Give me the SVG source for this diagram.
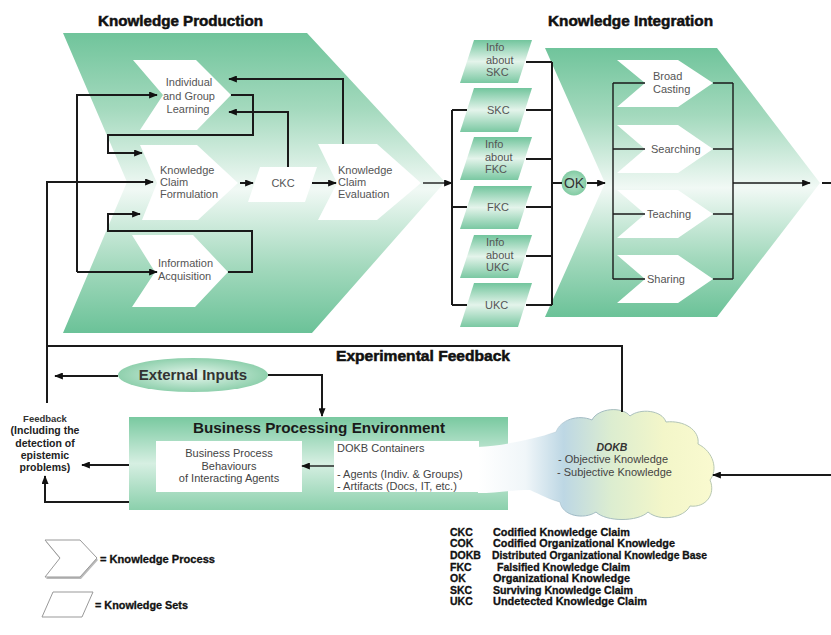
<svg xmlns="http://www.w3.org/2000/svg" width="831" height="635" viewBox="0 0 831 635">
<style>
text{font-family:"Liberation Sans",Arial,sans-serif}
.title{font-size:14px;font-weight:bold;fill:#111;stroke:#111;stroke-width:0.5}
.lbl{font-size:11px;fill:#555}
.conn{fill:none;stroke:#1a1a1a;stroke-width:2}
.thin{fill:none;stroke:#1a1a1a;stroke-width:1.4}
.leg{font-size:10.5px;font-weight:bold;fill:#111;stroke:#111;stroke-width:0.3}
.wch{fill:#fff}
.kset{fill:url(#gSet)}
</style>
<defs>
<linearGradient id="gBig" x1="0" y1="0" x2="0" y2="1">
<stop offset="0" stop-color="#70c49b"/>
<stop offset="0.25" stop-color="#a3d9bd"/>
<stop offset="0.52" stop-color="#f1f9f5"/>
<stop offset="0.78" stop-color="#a3d9bd"/>
<stop offset="1" stop-color="#6bc298"/>
</linearGradient>
<linearGradient id="gSet" x1="0" y1="0" x2="0" y2="1">
<stop offset="0" stop-color="#72c59d"/>
<stop offset="0.5" stop-color="#e4f4eb"/>
<stop offset="1" stop-color="#7ac8a2"/>
</linearGradient>
<linearGradient id="gBox" x1="0" y1="0" x2="0" y2="1">
<stop offset="0" stop-color="#79c9a0"/>
<stop offset="0.5" stop-color="#d6efe2"/>
<stop offset="1" stop-color="#8bd0ac"/>
</linearGradient>
<radialGradient id="gEll" cx="0.5" cy="0.5" r="0.5">
<stop offset="0" stop-color="#e6f6ed"/>
<stop offset="1" stop-color="#8fd0ad"/>
</radialGradient>
<radialGradient id="gOK" cx="0.5" cy="0.5" r="0.5">
<stop offset="0" stop-color="#bfe6d0"/>
<stop offset="1" stop-color="#82cba3"/>
</radialGradient>
<linearGradient id="gCloud" gradientUnits="userSpaceOnUse" x1="478" y1="0" x2="716" y2="0">
<stop offset="0" stop-color="#ffffff"/>
<stop offset="0.2" stop-color="#f0f6f9"/>
<stop offset="0.36" stop-color="#bdd7e4"/>
<stop offset="0.56" stop-color="#dcedd0"/>
<stop offset="0.78" stop-color="#f3f6c9"/>
<stop offset="1" stop-color="#fafad0"/>
</linearGradient>
<linearGradient id="gCloudS" gradientUnits="userSpaceOnUse" x1="478" y1="0" x2="716" y2="0">
<stop offset="0" stop-color="#9db8c4" stop-opacity="0"/>
<stop offset="0.28" stop-color="#9db8c4" stop-opacity="0"/>
<stop offset="0.4" stop-color="#9db8c4" stop-opacity="1"/>
<stop offset="1" stop-color="#b9c8b0" stop-opacity="1"/>
</linearGradient>
<marker id="ah" viewBox="0 0 10 8" refX="9" refY="4" markerWidth="9" markerHeight="7" markerUnits="userSpaceOnUse" orient="auto">
<path d="M0,0 L10,4 L0,8 Z" fill="#111"/>
</marker>
</defs>

<!-- Titles -->
<text class="title" x="98" y="26" textLength="165" lengthAdjust="spacingAndGlyphs">Knowledge Production</text>
<text class="title" x="548" y="26" textLength="165" lengthAdjust="spacingAndGlyphs">Knowledge Integration</text>

<!-- Knowledge Production big chevron -->
<g id="knowledge-production">
<path d="M63,33 H307 L445,182 L312,333 H63 L127,182 Z" fill="url(#gBig)"/>
</g>
<g id="individual-group-learning">
<path class="wch" d="M133,60 H196 L231,95 L197,130 H140 L163,95 Z"/>
<text class="lbl" x="189" y="86" text-anchor="middle">Individual</text>
<text class="lbl" x="189" y="100" text-anchor="middle">and Group</text>
<text class="lbl" x="188" y="113" text-anchor="middle">Learning</text>
</g>
<g id="knowledge-claim-formulation">
<path class="wch" d="M140,145 H197 L238,183 L198,220 H142 L157,183 Z"/>
<text class="lbl" x="160" y="174">Knowledge</text>
<text class="lbl" x="160" y="186">Claim</text>
<text class="lbl" x="160" y="198">Formulation</text>
</g>
<g id="information-acquisition">
<path class="wch" d="M132,235 H193 L228,272 L195,307 H132 L155,272 Z"/>
<text class="lbl" x="158" y="267">Information</text>
<text class="lbl" x="158" y="280">Acquisition</text>
</g>
<g id="ckc">
<path class="wch" d="M260,167 H317 L305,202 H248 Z"/>
<text class="lbl" x="283" y="187" text-anchor="middle">CKC</text>
</g>
<g id="knowledge-claim-evaluation">
<path class="wch" d="M318,144 H377 L421,183 L377,220 H318 L337,183 Z"/>
<text class="lbl" x="338" y="174">Knowledge</text>
<text class="lbl" x="338" y="186">Claim</text>
<text class="lbl" x="338" y="198">Evaluation</text>
</g>

<!-- Knowledge sets -->
<g id="info-about-skc">
<path class="kset" d="M474,40 H532 L518,83 H460 Z"/>
<text class="lbl" x="486" y="51">Info</text>
<text class="lbl" x="486" y="64">about</text>
<text class="lbl" x="486" y="76">SKC</text>
</g>
<g id="skc">
<path class="kset" d="M474,88 H532 L518,132 H460 Z"/>
<text class="lbl" x="487" y="114">SKC</text>
</g>
<g id="info-about-fkc">
<path class="kset" d="M474,137 H532 L518,180 H460 Z"/>
<text class="lbl" x="485" y="148">Info</text>
<text class="lbl" x="485" y="161">about</text>
<text class="lbl" x="485" y="173">FKC</text>
</g>
<g id="fkc">
<path class="kset" d="M474,186 H532 L518,229 H460 Z"/>
<text class="lbl" x="487" y="211">FKC</text>
</g>
<g id="info-about-ukc">
<path class="kset" d="M474,235 H532 L518,278 H460 Z"/>
<text class="lbl" x="486" y="246">Info</text>
<text class="lbl" x="486" y="259">about</text>
<text class="lbl" x="486" y="271">UKC</text>
</g>
<g id="ukc">
<path class="kset" d="M474,283 H532 L518,327 H460 Z"/>
<text class="lbl" x="485" y="309">UKC</text>
</g>

<!-- Knowledge Integration big chevron -->
<g id="knowledge-integration">
<path d="M545,48 H717 L820,183 L717,317 H545 L605,183 Z" fill="url(#gBig)"/>
</g>
<g id="broad-casting">
<path class="wch" d="M617,60 H678 L713,83 L678,107 H617 L645,83 Z"/>
<text class="lbl" x="653" y="80">Broad</text>
<text class="lbl" x="653" y="93">Casting</text>
</g>
<g id="searching">
<path class="wch" d="M617,125 H678 L713,149 L678,173 H617 L645,149 Z"/>
<text class="lbl" x="651" y="153">Searching</text>
</g>
<g id="teaching">
<path class="wch" d="M617,190 H678 L713,214 L678,238 H617 L645,214 Z"/>
<text class="lbl" x="647" y="218">Teaching</text>
</g>
<g id="sharing">
<path class="wch" d="M617,255 H678 L713,279 L678,303 H617 L645,279 Z"/>
<text class="lbl" x="647" y="283">Sharing</text>
</g>
<g id="ok">
<circle cx="574" cy="183" r="12.5" fill="url(#gOK)"/>
<text x="574" y="188" text-anchor="middle" font-size="14" fill="#333">OK</text>
</g>

<!-- Bottom nodes -->
<g id="external-inputs">
<ellipse cx="193" cy="375" rx="75" ry="17" fill="url(#gEll)"/>
<text x="193" y="380" text-anchor="middle" font-size="15" font-weight="bold" fill="#333">External Inputs</text>
</g>
<g id="business-processing-environment">
<rect x="129" y="417" width="379" height="93" fill="url(#gBox)"/>
<text x="193" y="433" font-size="15.5" font-weight="bold" fill="#1a1a1a" textLength="252" lengthAdjust="spacingAndGlyphs">Business Processing Environment</text>
</g>
<g id="dokb">
<path d="M478,447 C500,446 530,440 556,432 C560,420 578,414 592,420 C598,408 622,406 630,416 C640,408 662,410 666,422 C684,420 700,430 698,444 C714,452 718,470 710,480 C716,494 706,508 690,506 C684,518 660,522 648,512 C638,522 606,522 596,512 C584,520 562,516 560,502 C545,498 535,492 530,490 C510,490 495,493 478,493 Z" fill="url(#gCloud)" stroke="url(#gCloudS)" stroke-width="1"/>
<text x="612" y="451" text-anchor="middle" font-size="10.5" font-weight="bold" font-style="italic" fill="#333">DOKB</text>
<text x="558" y="463" font-size="11" fill="#444">-  Objective Knowledge</text>
<text x="557" y="476" font-size="11" fill="#444">-  Subjective Knowledge</text>
</g>
<g id="business-process-behaviours">
<rect x="156" y="441" width="146" height="51" fill="#fff"/>
<text x="229" y="457" text-anchor="middle" font-size="11" fill="#444">Business Process</text>
<text x="229" y="470" text-anchor="middle" font-size="11" fill="#444">Behaviours</text>
<text x="229" y="482" text-anchor="middle" font-size="11" fill="#444">of Interacting Agents</text>
</g>
<g id="dokb-containers">
<rect x="334" y="441" width="145" height="51" fill="#fff"/>
<text x="337" y="452" font-size="11" fill="#444">DOKB Containers</text>
<text x="337" y="478" font-size="11" fill="#444">-  Agents (Indiv. &amp; Groups)</text>
<text x="337" y="490" font-size="11" fill="#444">-  Artifacts (Docs, IT, etc.)</text>
</g>
<g id="feedback">
<text x="45" y="422" text-anchor="middle" font-size="9.5" font-weight="bold" fill="#333">Feedback</text>
<text x="45" y="434" text-anchor="middle" font-size="10.5" font-weight="bold" fill="#222">(Including the</text>
<text x="45" y="447" text-anchor="middle" font-size="10.5" font-weight="bold" fill="#222">detection of</text>
<text x="45" y="459" text-anchor="middle" font-size="10.5" font-weight="bold" fill="#222">epistemic</text>
<text x="45" y="471" text-anchor="middle" font-size="10.5" font-weight="bold" fill="#222">problems)</text>
</g>
<text class="title" x="336" y="361" textLength="174" lengthAdjust="spacingAndGlyphs">Experimental Feedback</text>

<!-- Connectors -->
<g id="connectors">
<path class="conn" d="M47,403 V182 H153" marker-end="url(#ah)"/>
<path class="conn" d="M77,272 V95 H157" marker-end="url(#ah)"/>
<path class="conn" d="M77,272 H157" marker-end="url(#ah)"/>
<path class="conn" d="M231,95 H253 V135 H108 V153 H142" marker-end="url(#ah)"/>
<path class="conn" d="M228,272 H252 V231 H108 V214 H140" marker-end="url(#ah)"/>
<path class="conn" d="M288,167 V112 H229" marker-end="url(#ah)"/>
<path class="conn" d="M343,144 V79 H229" marker-end="url(#ah)"/>
<path class="conn" d="M240,183 H253" marker-end="url(#ah)"/>
<path class="conn" d="M312,183 H336" marker-end="url(#ah)"/>
<path class="thin" d="M423,183 H452" marker-end="url(#ah)"/>
<path class="conn" d="M452,110 V305"/>
<path class="conn" d="M452,110 H467 M452,207 H467 M452,305 H467"/>
<path class="conn" d="M552,62 V305"/>
<path class="conn" d="M526,62 H552 M526,110 H552 M526,159 H552 M526,207 H552 M526,256 H552 M526,305 H552"/>
<path class="conn" d="M552,183 H562"/>
<path class="conn" d="M587,183 H605" marker-end="url(#ah)"/>
<path class="thin" d="M613,83 V279 M613,83 H645 M613,149 H645 M613,214 H645 M613,279 H645"/>
<path class="thin" d="M733,83 V279 M713,83 H733 M713,149 H733 M713,214 H733 M713,279 H733"/>
<path class="thin" d="M733,183 H810" marker-end="url(#ah)"/>
<path class="conn" d="M822,183 H831"/>
<path class="conn" d="M622,412 V346 H47"/>
<path class="conn" d="M118,376 H55" marker-end="url(#ah)"/>
<path class="conn" d="M268,375 H322 V416" marker-end="url(#ah)"/>
<path class="conn" d="M129,465 H82" marker-end="url(#ah)"/>
<path class="conn" d="M129,502 H45 V476" marker-end="url(#ah)"/>
<path class="thin" d="M334,466 H302" marker-end="url(#ah)"/>
<path class="conn" d="M831,475 H713" marker-end="url(#ah)"/>
</g>

<!-- Legend -->
<g id="legend-process">
<path d="M46,542 H81 L98,560 L81,579 H46 L61,560 Z" fill="#bbb"/>
<path d="M45,540 H80 L97,558 L80,577 H45 L60,558 Z" fill="#fff" stroke="#999" stroke-width="1"/>
<text class="leg" x="100" y="563" textLength="115" lengthAdjust="spacingAndGlyphs">= Knowledge Process</text>
</g>
<g id="legend-sets">
<path d="M53,592 H93 L82,617 H42 Z" fill="#fff" stroke="#999" stroke-width="1"/>
<text class="leg" x="95" y="609" textLength="93" lengthAdjust="spacingAndGlyphs">= Knowledge Sets</text>
</g>
<g id="legend-abbreviations">
<text class="leg" x="450" y="535.5">CKC</text>
<text class="leg" x="493" y="535.5" textLength="137" lengthAdjust="spacingAndGlyphs">Codified Knowledge Claim</text>
<text class="leg" x="450" y="547">COK</text>
<text class="leg" x="493" y="547" textLength="182" lengthAdjust="spacingAndGlyphs">Codified Organizational Knowledge</text>
<text class="leg" x="450" y="558.5">DOKB</text>
<text class="leg" x="492" y="558.5" textLength="215" lengthAdjust="spacingAndGlyphs">Distributed Organizational Knowledge Base</text>
<text class="leg" x="450" y="570.5">FKC</text>
<text class="leg" x="497" y="570.5" textLength="133" lengthAdjust="spacingAndGlyphs">Falsified Knowledge Claim</text>
<text class="leg" x="450" y="582">OK</text>
<text class="leg" x="493" y="582" textLength="137" lengthAdjust="spacingAndGlyphs">Organizational Knowledge</text>
<text class="leg" x="450" y="593.5">SKC</text>
<text class="leg" x="493" y="593.5" textLength="140" lengthAdjust="spacingAndGlyphs">Surviving Knowledge Claim</text>
<text class="leg" x="450" y="605">UKC</text>
<text class="leg" x="493" y="605" textLength="154" lengthAdjust="spacingAndGlyphs">Undetected Knowledge Claim</text>
</g>
</svg>
